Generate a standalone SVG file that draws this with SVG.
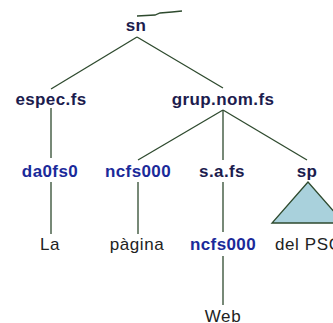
<svg xmlns="http://www.w3.org/2000/svg" width="333" height="323" viewBox="0 0 333 323">
<style>
.cat{font-family:"Liberation Sans",Arial,sans-serif;font-weight:bold;font-size:17px;fill:#1c1c4e;text-anchor:middle;letter-spacing:0.4px}
.tag{font-family:"Liberation Sans",Arial,sans-serif;font-weight:bold;font-size:17px;fill:#1a2a9a;text-anchor:middle;letter-spacing:0.4px}
.word{font-family:"Liberation Sans",Arial,sans-serif;font-size:17px;fill:#222222;text-anchor:middle;letter-spacing:0.6px}
.edge{stroke:#2e4a2e;stroke-width:1.3;fill:none}
</style>
<rect width="333" height="323" fill="#ffffff"/>
<g id="connectors">
<polyline class="edge" points="137,16 155,15 160,13 172,12 182,11"/>
<line class="edge" x1="137" y1="37" x2="51" y2="89"/>
<line class="edge" x1="137" y1="37" x2="223" y2="88"/>
<line class="edge" x1="51" y1="108" x2="51" y2="158"/>
<line class="edge" x1="223" y1="110" x2="138" y2="160"/>
<line class="edge" x1="223" y1="110" x2="223" y2="160"/>
<line class="edge" x1="223" y1="110" x2="307" y2="160"/>
<line class="edge" x1="51" y1="182" x2="51" y2="234"/>
<line class="edge" x1="138" y1="182" x2="138" y2="234"/>
<line class="edge" x1="223" y1="182" x2="223" y2="232"/>
<line class="edge" x1="223" y1="256" x2="223" y2="305"/>
</g>
<g id="n_sn"><text class="cat" x="136" y="31">sn</text></g>
<g id="n_espec"><text class="cat" x="51" y="105">espec.fs</text></g>
<g id="n_grup"><text class="cat" x="223" y="105">grup.nom.fs</text></g>
<g id="n_da0fs0"><text class="tag" x="50" y="177">da0fs0</text></g>
<g id="n_ncfs000a"><text class="tag" x="138" y="177">ncfs000</text></g>
<g id="n_safs"><text class="cat" x="222" y="177">s.a.fs</text></g>
<g id="n_sp"><text class="cat" x="307" y="177">sp</text></g>
<g id="n_la"><text class="word" x="50" y="250">La</text></g>
<g id="n_pagina"><text class="word" x="137" y="250">pàgina</text></g>
<g id="n_ncfs000b"><text class="tag" x="223" y="250">ncfs000</text></g>
<g id="n_tri"><polygon points="308,182 272,223 344,223" fill="#a9d1dc" stroke="#2e4a2e" stroke-width="1.3"/></g>
<g id="n_delpsc"><text class="word" x="275" y="250" style="text-anchor:start">del PSC</text></g>
<g id="n_web"><text class="word" x="223" y="322">Web</text></g>
</svg>
